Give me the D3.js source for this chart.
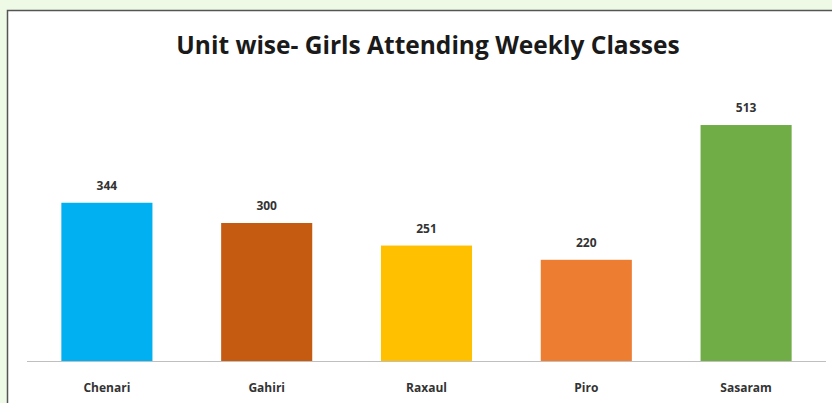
<!DOCTYPE html>
<html><head><meta charset="utf-8">
<script src="https://cdn.jsdelivr.net/npm/d3@7"></script>
<style>body{margin:0;background:#fff;}svg{display:block;}</style>
</head><body>
<script>
const categories = ["Chenari","Gahiri","Raxaul","Piro","Sasaram"];
const values = [344,300,251,220,513];
const colors = ["#00B0F0","#C55A11","#FFC000","#ED7D31","#70AD47"];
const title = "Unit wise- Girls Attending Weekly Classes";

const W = 832, H = 403;
const svg = d3.select("body").append("svg").attr("width", W).attr("height", H);

// page background
svg.append("rect").attr("width", W).attr("height", H).attr("fill", "#eef9e6");
svg.append("rect").attr("x", 7.5).attr("y", 10.5).attr("width", W).attr("height", H)
  .attr("fill", "#fff").attr("stroke", "#555").attr("stroke-width", 1.5);

const x = d3.scaleBand().domain(categories).range([27, 826]).paddingInner(0.43).paddingOuter(0.215);
const y = d3.scaleLinear().domain([0, 600]).range([361, 85]);

svg.append("text").attr("x", 428).attr("y", 54).attr("text-anchor", "middle")
  .attr("font-family", "'Open Sans', sans-serif").attr("font-weight", 700)
  .attr("font-size", 24.5).attr("fill", "#1a1a1a").text(title);

svg.selectAll("rect.bar").data(values).join("rect").attr("class", "bar")
  .attr("x", (d, i) => x(categories[i]))
  .attr("width", x.bandwidth())
  .attr("y", d => y(d)).attr("height", d => y(0) - y(d))
  .attr("fill", (d, i) => colors[i]);

// baseline
svg.append("line").attr("x1", 27).attr("x2", 826).attr("y1", y(0) + 0.5).attr("y2", y(0) + 0.5)
  .attr("stroke", "#bfbfbf").attr("stroke-width", 1);

svg.selectAll("text.val").data(values).join("text").attr("class", "val")
  .attr("x", (d, i) => x(categories[i]) + x.bandwidth() / 2)
  .attr("y", d => y(d) - 13).attr("text-anchor", "middle")
  .attr("font-family", "'Open Sans', sans-serif").attr("font-weight", 700)
  .attr("font-size", 12).attr("fill", "#333").text(d => d);

svg.selectAll("text.cat").data(categories).join("text").attr("class", "cat")
  .attr("x", d => x(d) + x.bandwidth() / 2).attr("y", 392).attr("text-anchor", "middle")
  .attr("font-family", "'Open Sans', sans-serif").attr("font-weight", 700)
  .attr("font-size", 12).attr("fill", "#333").text(d => d);
</script>
</body></html>
